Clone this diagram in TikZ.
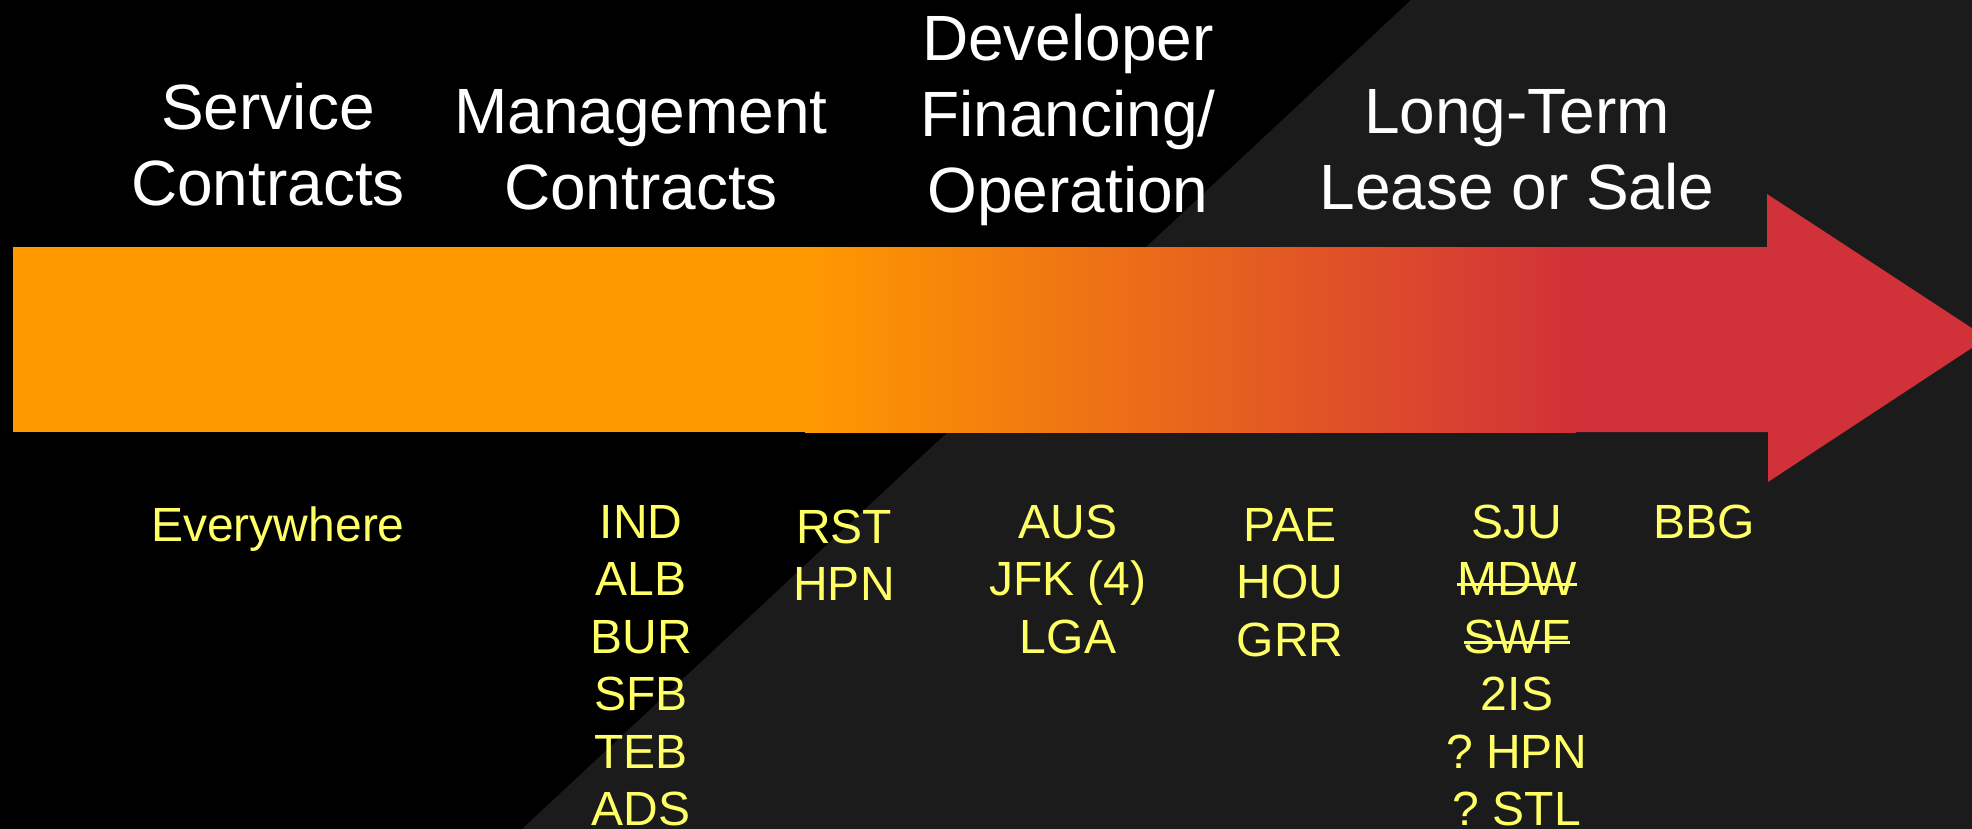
\documentclass[tikz,border=0pt]{standalone}
\usepackage{fontspec}
\setmainfont{Liberation Sans}
\definecolor{bgdark}{RGB}{27,27,27}
\definecolor{arrorange}{RGB}{255,153,0}
\definecolor{arrred}{RGB}{209,49,56}
\definecolor{labyellow}{RGB}{255,255,102}
\newcommand\xstrike[1]{\setbox0\hbox{#1}\rlap{\vrule height 12.5pt depth -9.5pt width \wd0}\box0}
\begin{document}
\begin{tikzpicture}[x=1pt,y=-1pt,
  title/.style={text=white, font=\fontsize{64}{76}\selectfont, align=center, anchor=base, inner sep=0pt},
  code/.style={text=labyellow, font=\fontsize{48}{57.5}\selectfont, align=center, anchor=base, inner sep=0pt}]
\useasboundingbox (0,0) rectangle (1972,829);
\clip (0,0) rectangle (1972,829);
\fill[black] (0,0) rectangle (1972,829);
\fill[bgdark] (1411,0) -- (1972,0) -- (1972,829) -- (522,829) -- cycle;
% arrow
\fill[arrorange] (13,247) rectangle (806,432);
\shade[left color=arrorange, right color=arrred] (805,247) rectangle (1576,432);
\fill[arrred] (1575,247) -- (1767,247) -- (1767,194) -- (1987,338) -- (1768,482) -- (1768,432) -- (1575,432) -- cycle;
% titles (anchor = baseline of the last line)
\node[title] (svc) at (268,206) {Service\\Contracts};
\node[title] (mgmt) at (641,209) {Management\\Contracts};
\node[title] (dev) at (1068,212) {Developer\\Financing/\\Operation};
\node[title] (lt) at (1517,210) {Long-Term\\Lease or Sale};
% airports
\node[code] (every) at (278,541) {Everywhere};
\node[code] (c1) at (641,825.5) {IND\\ALB\\BUR\\SFB\\TEB\\ADS};
\node[code] (c2) at (844,600.5) {RST\\HPN};
\node[code] (c3) at (1068,653) {AUS\\JFK (4)\\LGA};
\node[code] (c4) at (1290,656) {PAE\\HOU\\GRR};
\node[code] (c5) at (1517,825.5) {SJU\\\xstrike{MDW}\\\xstrike{SWF}\\2IS\\?\ HPN\\?\ STL};
\node[code] (c6) at (1704,538) {BBG};
\end{tikzpicture}
\end{document}
